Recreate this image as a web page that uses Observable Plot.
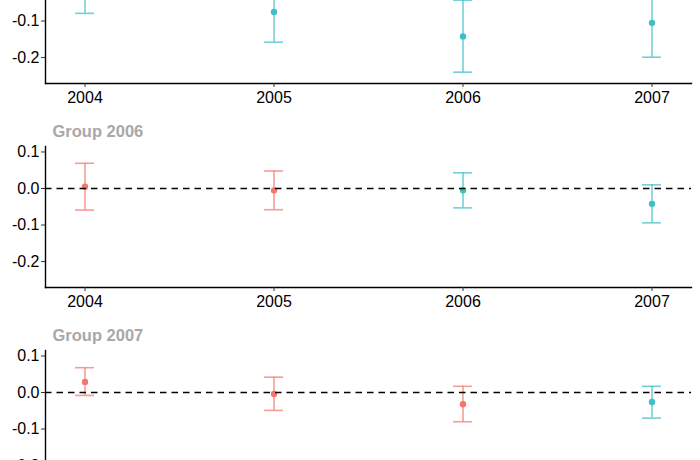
<!DOCTYPE html>
<html><head><meta charset="utf-8">
<script src="https://cdn.jsdelivr.net/npm/d3@7"></script>
<script src="https://cdn.jsdelivr.net/npm/@observablehq/plot@0.6"></script>
<style>
body{margin:0;background:#fff;}
#wrap{position:relative;width:700px;height:460px;overflow:hidden;background:#fff;}
.panel{position:absolute;left:0;}
</style></head><body><div id="wrap"></div>
<script>
const years = ["2004", "2005", "2006", "2007"];
const groups = ["Group 2005", "Group 2006", "Group 2007"];
const estimates = [
  [-0.015, -0.075, -0.142, -0.105],
  [0.005, -0.005, -0.005, -0.042],
  [0.029, -0.004, -0.032, -0.026]
];
const lower = [
  [-0.079, -0.158, -0.240, -0.199],
  [-0.059, -0.058, -0.053, -0.094],
  [-0.008, -0.049, -0.080, -0.070]
];
const upper = [
  [0.049, 0.009, -0.043, -0.011],
  [0.069, 0.048, 0.043, 0.010],
  [0.068, 0.042, 0.017, 0.017]
];
const periods = [
  ["post", "post", "post", "post"],
  ["pre", "pre", "post", "post"],
  ["pre", "pre", "pre", "post"]
];
const yTicks = [0.1, 0.0, -0.1, -0.2];
const yDomain = [-0.271, 0.115];
const colors = {domain: ["pre", "post"], range: ["#F2776E", "#3FBEC3"]};

const wrap = document.getElementById("wrap");
const tops = [-88, 116, 320];
// the top panel is only partly inside the 460px window (cropped as in the reference)
const showTitle = [false, true, true];
const panelTicks = [[-0.1, -0.2], yTicks, yTicks];

groups.forEach((g, gi) => {
  const rows = years.map((yr, i) => ({
    year: yr, est: estimates[gi][i], lo: lower[gi][i], hi: upper[gi][i], period: periods[gi][i]
  }));
  const chart = Plot.plot({
    width: 700, height: 204,
    marginTop: 30, marginBottom: 33, marginLeft: 45, marginRight: 9,
    style: {fontFamily: "'Liberation Sans', Arial, sans-serif", fontSize: "16px", color: "black", background: "white", overflow: "visible"},
    x: {type: "band", domain: years, paddingInner: 0.9, paddingOuter: 0.156, label: null},
    y: {domain: yDomain, label: null},
    color: colors,
    marks: [
      Plot.ruleX(rows, {x: "year", y1: "lo", y2: "hi", stroke: "period", strokeWidth: 1.6, strokeOpacity: 0.72}),
      Plot.tickY(rows, {x: "year", y: "lo", stroke: "period", strokeWidth: 1.6, strokeOpacity: 0.72}),
      Plot.tickY(rows, {x: "year", y: "hi", stroke: "period", strokeWidth: 1.6, strokeOpacity: 0.72}),
      Plot.dot(rows, {x: "year", y: "est", fill: "period", r: 3.2}),
      Plot.ruleY([0], {stroke: "black", strokeWidth: 1.4, strokeDasharray: "6.5,5"}),
      Plot.frame({anchor: "left", stroke: "black", strokeWidth: 1.4}),
      Plot.frame({anchor: "bottom", stroke: "black", strokeWidth: 1.4}),
      Plot.axisY({ticks: panelTicks[gi], tickFormat: d => d.toFixed(1), tickSize: 4, tickPadding: 2, label: null, stroke: "#333", fontSize: 16}),
      Plot.axisX({tickSize: 4, tickPadding: 4, label: null, stroke: "#333", fontSize: 16}),
      showTitle[gi] ? Plot.text([g], {frameAnchor: "top-left", dx: 7, dy: -15, text: d => d, textAnchor: "start", lineAnchor: "middle", fontSize: 16.5, fontWeight: "bold", fill: "#A8A8A8"}) : null
    ]
  });
  chart.classList.add("panel");
  chart.style.top = tops[gi] + "px";
  wrap.appendChild(chart);
});
</script>
</body></html>
